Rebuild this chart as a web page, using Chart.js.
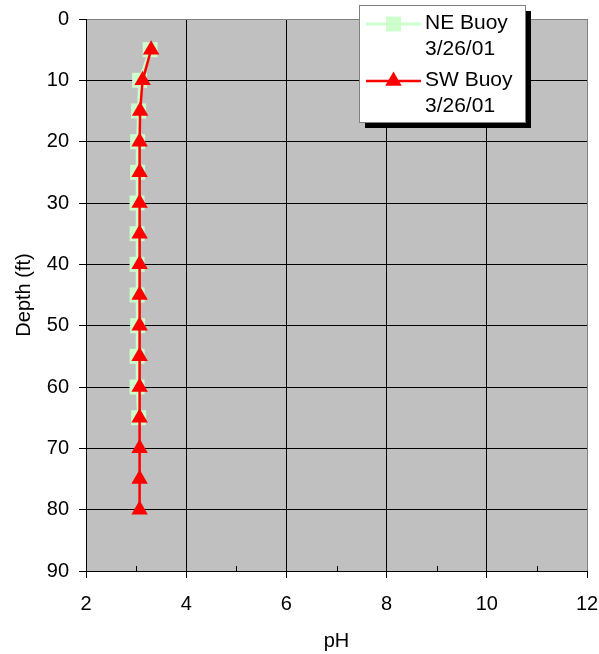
<!DOCTYPE html>
<html>
<head>
<meta charset="utf-8">
<script src="https://cdn.jsdelivr.net/npm/chart.js@4.4.1/dist/chart.umd.min.js"></script>
<style>
  html, body { margin: 0; padding: 0; background: #ffffff; }
  #chart { display: block; }
</style>
</head>
<body>
<canvas id="chart" width="599" height="654"></canvas>
<script>
// pH profiles by depth, two buoys sampled on 3/26/01
const neDepths = [5, 10, 15, 20, 25, 30, 35, 40, 45, 50, 55, 60, 65];
const nePH     = [3.28, 3.07, 3.05, 3.03, 3.03, 3.02, 3.02, 3.02, 3.02, 3.03, 3.02, 3.02, 3.05];
const swDepths = [5, 10, 15, 20, 25, 30, 35, 40, 45, 50, 55, 60, 65, 70, 75, 80];
const swPH     = [3.30, 3.13, 3.08, 3.07, 3.07, 3.07, 3.07, 3.07, 3.07, 3.07, 3.07, 3.07, 3.07, 3.07, 3.07, 3.07];
const seriesLabels = [["NE Buoy", "3/26/01"], ["SW Buoy", "3/26/01"]];
const xTickValues = [2, 4, 6, 8, 10, 12];
const xMinorTickValues = [3, 5, 7, 9, 11];
const yTickValues = [0, 10, 20, 30, 40, 50, 60, 70, 80, 90];

const FONT = "'Liberation Sans', Arial, sans-serif";
const FONT_SIZE = 20;
const LEGEND_FONT_SIZE = 21;

function toPoints(xs, ys) {
  return ys.map((d, i) => ({ x: xs[i], y: d }));
}

// grey plot area
const plotBackground = {
  id: 'plotBackground',
  beforeDraw(chart) {
    const { ctx, chartArea: a } = chart;
    ctx.save();
    ctx.fillStyle = '#C0C0C0';
    ctx.fillRect(a.left, a.top, a.right - a.left, a.bottom - a.top);
    ctx.restore();
  }
};

// small inward ticks on the pH axis at odd values
const minorTicks = {
  id: 'minorTicks',
  beforeDatasetsDraw(chart) {
    const { ctx, scales: { x } } = chart;
    const yb = chart.chartArea.bottom;
    ctx.save();
    ctx.strokeStyle = '#000000';
    ctx.lineWidth = 1;
    ctx.beginPath();
    xMinorTickValues.forEach(v => {
      const px = Math.round(x.getPixelForValue(v)) + 0.5;
      ctx.moveTo(px, yb);
      ctx.lineTo(px, yb - 5);
    });
    ctx.stroke();
    ctx.restore();
  }
};

// boxed legend with drop shadow and two-line entries
const boxLegend = {
  id: 'boxLegend',
  afterDraw(chart) {
    const { ctx } = chart;
    const bx = 359, by = 5, bw = 166, bh = 117, sh = 6;
    ctx.save();
    ctx.fillStyle = '#000000';
    ctx.fillRect(bx + sh, by + sh, bw, bh);
    ctx.fillStyle = '#ffffff';
    ctx.fillRect(bx, by, bw, bh);
    ctx.strokeStyle = '#808080';
    ctx.lineWidth = 1;
    ctx.strokeRect(bx + 0.5, by + 0.5, bw, bh);

    const rows = [24, 81];
    chart.data.datasets.forEach((ds, i) => {
      const ly = rows[i];
      ctx.strokeStyle = ds.borderColor;
      ctx.lineWidth = ds.borderWidth;
      ctx.beginPath();
      ctx.moveTo(366, ly);
      ctx.lineTo(421, ly);
      ctx.stroke();
      ctx.fillStyle = ds.backgroundColor;
      ctx.strokeStyle = ds.borderColor;
      Chart.helpers.drawPoint(ctx, {
        pointStyle: ds.pointStyle,
        radius: ds.pointRadius,
        rotation: 0,
        borderWidth: 0
      }, 393.5, ly);
      ctx.fillStyle = '#000000';
      ctx.font = LEGEND_FONT_SIZE + 'px ' + FONT;
      ctx.textBaseline = 'middle';
      ctx.textAlign = 'left';
      seriesLabels[i].forEach((t, k) => {
        ctx.fillText(t, 425, ly - 1 + k * 26);
      });
    });
    ctx.restore();
  }
};

const gridColorX = c => (c.tick && c.tick.value === 12 ? '#808080' : '#000000');
const gridColorY = c => (c.tick && c.tick.value === 0 ? '#808080' : '#000000');

new Chart(document.getElementById('chart'), {
  type: 'scatter',
  data: {
    datasets: [
      {
        label: seriesLabels[0].join(' '),
        data: toPoints(nePH, neDepths),
        showLine: true,
        borderColor: '#CCFFCC',
        backgroundColor: '#CCFFCC',
        borderWidth: 3,
        pointStyle: 'rect',
        pointRadius: 10.6,
        pointBorderWidth: 0,
        order: 1
      },
      {
        label: seriesLabels[1].join(' '),
        data: toPoints(swPH, swDepths),
        showLine: true,
        borderColor: '#FF0000',
        backgroundColor: '#FF0000',
        borderWidth: 2.5,
        pointStyle: 'triangle',
        pointRadius: 9.5,
        pointBorderWidth: 0,
        order: 0
      }
    ]
  },
  options: {
    responsive: false,
    animation: false,
    devicePixelRatio: 1,
    events: [],
    layout: { padding: { top: 19, right: 12, left: 0, bottom: 0 } },
    plugins: {
      legend: { display: false },
      tooltip: { enabled: false }
    },
    scales: {
      x: {
        type: 'linear',
        position: 'bottom',
        min: 2,
        max: 12,
        afterBuildTicks: s => { s.ticks = xTickValues.map(v => ({ value: v })); },
        afterFit: s => { s.height = 83; s.paddingLeft = 0; s.paddingRight = 0; },
        grid: {
          color: gridColorX,
          lineWidth: 1,
          tickLength: 7,
          tickColor: '#000000'
        },
        border: { color: '#000000', width: 1 },
        ticks: {
          color: '#000000',
          font: { family: FONT, size: FONT_SIZE },
          padding: 14,
          maxRotation: 0
        },
        title: {
          display: true,
          text: 'pH',
          color: '#000000',
          font: { family: FONT, size: FONT_SIZE },
          padding: { top: 0, bottom: 1 }
        }
      },
      y: {
        type: 'linear',
        reverse: true,
        min: 0,
        max: 90,
        afterBuildTicks: s => { s.ticks = yTickValues.map(v => ({ value: v })); },
        afterFit: s => { s.width = 86; s.paddingTop = 0; s.paddingBottom = 0; },
        grid: {
          color: gridColorY,
          lineWidth: 1,
          tickLength: 7,
          tickColor: '#000000'
        },
        border: { color: '#000000', width: 1 },
        ticks: {
          color: '#000000',
          font: { family: FONT, size: FONT_SIZE },
          padding: 10
        },
        title: {
          display: true,
          text: 'Depth (ft)',
          color: '#000000',
          font: { family: FONT, size: FONT_SIZE },
          padding: { top: 12, bottom: 0 }
        }
      }
    }
  },
  plugins: [plotBackground, minorTicks, boxLegend]
});
</script>
</body>
</html>
